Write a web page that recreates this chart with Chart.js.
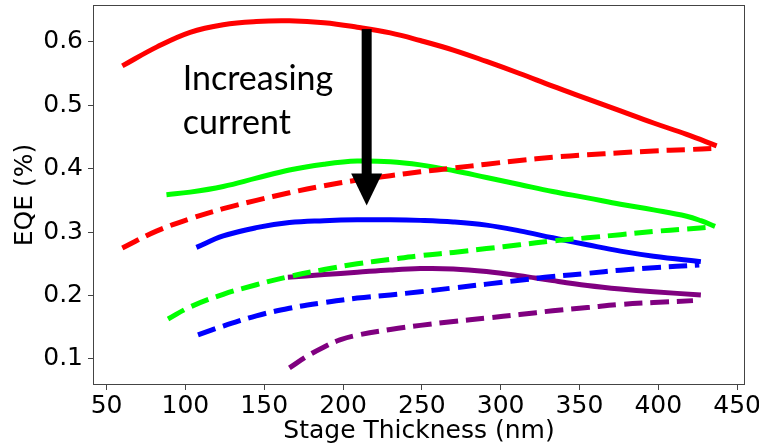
<!DOCTYPE html>
<html>
<head>
<meta charset="utf-8">
<script src="https://cdn.jsdelivr.net/npm/chart.js@4"></script>
<style>
  html, body { margin: 0; padding: 0; background: #fff; }
  canvas { display: block; }
</style>
</head>
<body>
<canvas id="myChart" width="759" height="446"></canvas>
<script>
// stage thickness (nm) and EQE for each current level, solid and dashed
const redSolidX = [60, 82, 103, 124, 145, 166, 188, 209, 230, 249, 270, 291, 312, 333, 355, 376, 397, 418, 437];
const redSolidY = [0.562, 0.592, 0.615, 0.627, 0.632, 0.633, 0.630, 0.623, 0.614, 0.602, 0.587, 0.569, 0.550, 0.530, 0.510, 0.491, 0.472, 0.454, 0.436];
const redDashX = [60, 82, 103, 124, 145, 166, 188, 209, 230, 249, 270, 291, 312, 333, 355, 376, 397, 418, 437];
const redDashY = [0.275, 0.302, 0.321, 0.337, 0.350, 0.362, 0.373, 0.382, 0.389, 0.395, 0.401, 0.407, 0.413, 0.418, 0.422, 0.425, 0.428, 0.430, 0.432];

const greenSolidX = [88, 103, 124, 145, 166, 188, 209, 230, 249, 270, 291, 312, 333, 355, 376, 397, 418, 427, 436];
const greenSolidY = [0.359, 0.363, 0.372, 0.385, 0.398, 0.407, 0.412, 0.411, 0.406, 0.397, 0.386, 0.375, 0.364, 0.354, 0.344, 0.335, 0.325, 0.318, 0.309];
const greenDashX = [89, 103, 124, 145, 166, 188, 209, 230, 249, 270, 291, 312, 333, 355, 376, 397, 418, 435];
const greenDashY = [0.163, 0.182, 0.202, 0.217, 0.230, 0.241, 0.250, 0.257, 0.263, 0.268, 0.274, 0.280, 0.286, 0.291, 0.296, 0.301, 0.305, 0.308];

const blueSolidX = [107, 124, 145, 166, 188, 209, 230, 249, 270, 291, 312, 333, 355, 376, 397, 427];
const blueSolidY = [0.276, 0.294, 0.307, 0.315, 0.318, 0.3195, 0.3195, 0.3185, 0.316, 0.311, 0.302, 0.291, 0.280, 0.270, 0.262, 0.2535];
const blueDashX = [108, 124, 145, 166, 188, 209, 230, 249, 270, 291, 312, 333, 355, 376, 397, 426];
const blueDashY = [0.138, 0.152, 0.168, 0.180, 0.189, 0.196, 0.201, 0.206, 0.212, 0.218, 0.224, 0.230, 0.235, 0.240, 0.244, 0.248];

const purpleSolidX = [165, 188, 209, 230, 249, 270, 291, 312, 333, 355, 376, 397, 427];
const purpleSolidY = [0.229, 0.233, 0.2367, 0.2404, 0.2425, 0.242, 0.238, 0.2314, 0.2235, 0.2160, 0.2104, 0.206, 0.201];
const purpleDashX = [166, 177, 188, 198, 209, 230, 249, 270, 291, 312, 333, 355, 376, 397, 422];
const purpleDashY = [0.086, 0.104, 0.119, 0.130, 0.1375, 0.1465, 0.153, 0.159, 0.1645, 0.170, 0.176, 0.181, 0.186, 0.189, 0.192];

const xTicks = [50, 100, 150, 200, 250, 300, 350, 400, 450];
const yTicks = [0.1, 0.2, 0.3, 0.4, 0.5, 0.6];

// arrow (x, top, tip) and label lines, in data units
const arrowAt = [215, 0.62, 0.342];
const noteLines = ['Increasing', 'current'];
const notePos = [98.3, 0.5237, 0.4553];

Chart.defaults.font.family = 'DejaVu Sans';
Chart.defaults.color = '#000';

const pts = (xs, ys) => xs.map((x, i) => ({ x: x, y: ys[i] }));

const line = (xs, ys, color, dashed) => ({
    data: pts(xs, ys),
    borderColor: color,
    borderWidth: 5,
    borderDash: dashed ? [18.5, 8] : [],
    borderCapStyle: 'butt',
    pointRadius: 0,
    fill: false,
    tension: 0.4
});

const overlay = {
    id: 'overlay',
    afterDatasetsDraw(chart) {
        const { ctx, chartArea: a, scales: { x, y } } = chart;
        ctx.save();

        // box round the plot
        ctx.strokeStyle = '#444';
        ctx.lineWidth = 1;
        ctx.strokeRect(a.left + 0.5, a.top + 0.5, a.right - a.left - 1, a.bottom - a.top - 1);

        // downward arrow
        const ax = x.getPixelForValue(arrowAt[0]);
        const top = y.getPixelForValue(arrowAt[1]);
        const tip = y.getPixelForValue(arrowAt[2]);
        const headLen = 32, headHalf = 15.5, shaftHalf = 5;
        ctx.fillStyle = '#000';
        ctx.fillRect(ax - shaftHalf, top, shaftHalf * 2, tip - headLen - top + 1);
        ctx.beginPath();
        ctx.moveTo(ax - headHalf, tip - headLen);
        ctx.lineTo(ax + headHalf, tip - headLen);
        ctx.lineTo(ax, tip);
        ctx.closePath();
        ctx.fill();

        // label
        ctx.font = '34px Lato';
        ctx.textAlign = 'left';
        ctx.textBaseline = 'alphabetic';
        const tx = x.getPixelForValue(notePos[0]);
        ctx.fillText(noteLines[0], tx, y.getPixelForValue(notePos[1]));
        ctx.fillText(noteLines[1], tx, y.getPixelForValue(notePos[2]));

        ctx.restore();
    }
};

const ctx = document.getElementById('myChart').getContext('2d');

const myChart = new Chart(ctx, {
    type: 'line',
    data: {
        datasets: [
            line(redSolidX, redSolidY, '#ff0000', false),
            line(redDashX, redDashY, '#ff0000', true),
            line(greenSolidX, greenSolidY, '#00ff00', false),
            line(greenDashX, greenDashY, '#00ff00', true),
            line(blueSolidX, blueSolidY, '#0000ff', false),
            line(blueDashX, blueDashY, '#0000ff', true),
            line(purpleSolidX, purpleSolidY, '#800080', false),
            line(purpleDashX, purpleDashY, '#800080', true)
        ]
    },
    options: {
        responsive: false,
        animation: false,
        events: [],
        layout: { padding: { top: 5, right: 14, left: 0, bottom: 0 } },
        plugins: {
            legend: { display: false },
            tooltip: { enabled: false }
        },
        scales: {
            x: {
                type: 'linear',
                min: 41.4,
                max: 455,
                afterFit: (scale) => {
                    scale.height = 61;
                    scale.paddingLeft = 0;
                    scale.paddingRight = 0;
                },
                afterBuildTicks: (scale) => { scale.ticks = xTicks.map(v => ({ value: v })); },
                border: { display: false },
                grid: { drawOnChartArea: false, drawTicks: true, tickLength: 5, tickColor: '#444' },
                ticks: { font: { size: 25 }, padding: 1, maxRotation: 0, autoSkip: false, color: '#000' },
                title: { display: true, text: 'Stage Thickness (nm)', font: { size: 25 }, color: '#000', padding: { top: 0, bottom: 0 } }
            },
            y: {
                type: 'linear',
                min: 0.059,
                max: 0.658,
                afterFit: (scale) => {
                    scale.width = 93;
                    scale.paddingTop = 0;
                    scale.paddingBottom = 0;
                },
                afterBuildTicks: (scale) => { scale.ticks = yTicks.map(v => ({ value: v })); },
                border: { display: false },
                grid: { drawOnChartArea: false, drawTicks: true, tickLength: 5, tickColor: '#444' },
                ticks: {
                    font: { size: 25 },
                    padding: 5,
                    color: '#000',
                    callback: (v) => v.toFixed(1)
                },
                title: { display: true, text: 'EQE (%)', font: { size: 25 }, color: '#000', padding: { top: 10, bottom: 0 } }
            }
        }
    },
    plugins: [overlay]
});
</script>
</body>
</html>
